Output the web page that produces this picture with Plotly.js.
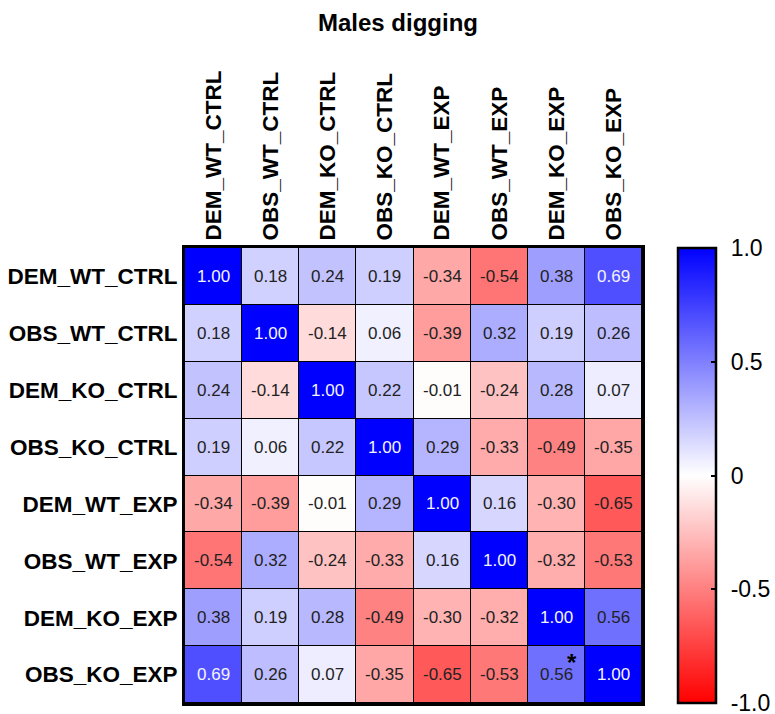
<!DOCTYPE html>
<html>
<head>
<meta charset="utf-8">
<script src="https://cdn.plot.ly/plotly-3.0.1.min.js"></script>
<style>html,body{margin:0;padding:0;background:#fff;}#chart{width:775px;height:714px;}</style>
</head>
<body>
<div id="chart"></div>
<script>
const labels = ["DEM_WT_CTRL","OBS_WT_CTRL","DEM_KO_CTRL","OBS_KO_CTRL","DEM_WT_EXP","OBS_WT_EXP","DEM_KO_EXP","OBS_KO_EXP"];
const row_DEM_WT_CTRL = [1.00, 0.18, 0.24, 0.19, -0.34, -0.54, 0.38, 0.69];
const row_OBS_WT_CTRL = [0.18, 1.00, -0.14, 0.06, -0.39, 0.32, 0.19, 0.26];
const row_DEM_KO_CTRL = [0.24, -0.14, 1.00, 0.22, -0.01, -0.24, 0.28, 0.07];
const row_OBS_KO_CTRL = [0.19, 0.06, 0.22, 1.00, 0.29, -0.33, -0.49, -0.35];
const row_DEM_WT_EXP  = [-0.34, -0.39, -0.01, 0.29, 1.00, 0.16, -0.30, -0.65];
const row_OBS_WT_EXP  = [-0.54, 0.32, -0.24, -0.33, 0.16, 1.00, -0.32, -0.53];
const row_DEM_KO_EXP  = [0.38, 0.19, 0.28, -0.49, -0.30, -0.32, 1.00, 0.56];
const row_OBS_KO_EXP  = [0.69, 0.26, 0.07, -0.35, -0.65, -0.53, 0.56, 1.00];
const z = [row_DEM_WT_CTRL,row_OBS_WT_CTRL,row_DEM_KO_CTRL,row_OBS_KO_CTRL,row_DEM_WT_EXP,row_OBS_WT_EXP,row_DEM_KO_EXP,row_OBS_KO_EXP];
const significant = [{row:"OBS_KO_EXP", col:"DEM_KO_EXP", mark:"*"}];
const cbTickVals = [1, 0.5, 0, -0.5, -1];
const cbTickText = ["1.0", "0.5", "0", "-0.5", "-1.0"];

const FONT = "Arial, 'Liberation Sans', sans-serif";
const PAD = "\u00a0\u200a";

const annotations = [];
z.forEach((row, i) => {
  row.forEach((v, j) => {
    annotations.push({
      x: labels[j], y: labels[i], xref: 'x', yref: 'y',
      text: v.toFixed(2), showarrow: false,
      font: {family: FONT, size: 17, color: v > 0.6 ? '#f4f4ff' : '#222'}
    });
  });
});
significant.forEach(s => {
  annotations.push({
    x: s.col, y: s.row, xref: 'x', yref: 'y', text: '<b>' + s.mark + '</b>', showarrow: false,
    xshift: 16, yshift: 12, font: {family: FONT, size: 24, color: '#000'}
  });
});

const trace = {
  type: 'heatmap',
  x: labels, y: labels, z: z,
  zmin: -1.0005, zmax: 1.0005,
  colorscale: [[0, 'rgb(255,0,0)'], [0.5, 'rgb(255,255,255)'], [1, 'rgb(0,0,255)']],
  xgap: 1, ygap: 1,
  hoverinfo: 'skip',
  colorbar: {
    x: (678 - 185) / 457, xanchor: 'left', xref: 'paper',
    y: 0.5, yanchor: 'middle', len: 1.0, lenmode: 'fraction',
    thickness: 38, thicknessmode: 'pixels',
    xpad: 0, ypad: 0,
    outlinewidth: 2.5, outlinecolor: '#000',
    tickmode: 'array', tickvals: cbTickVals, ticktext: cbTickText.map(t => PAD + t),
    ticks: 'inside', ticklen: 6, tickwidth: 2, tickcolor: '#000',
    ticklabeloverflow: 'allow',
    tickfont: {family: FONT, size: 23, color: '#000'}
  }
};

const layout = {
  width: 775, height: 714,
  margin: {l: 185, r: 133, t: 248, b: 11, autoexpand: false},
  paper_bgcolor: '#fff', plot_bgcolor: '#000',
  title: {text: '<b>Males digging</b>', x: 398/775, xanchor: 'center', xref: 'container',
          y: 1 - 23/714, yanchor: 'middle', yref: 'container',
          font: {family: FONT, size: 24, color: '#000'}},
  xaxis: {side: 'top', tickangle: -90, type: 'category',
          tickfont: {family: FONT, size: 22.5, color: '#000', weight: 'bold'},
          showline: true, mirror: true, linewidth: 3, linecolor: '#000',
          showgrid: false, zeroline: false, ticks: '', ticklabelstandoff: 0},
  yaxis: {autorange: 'reversed', type: 'category',
          tickfont: {family: FONT, size: 22.5, color: '#000', weight: 'bold'},
          showline: true, mirror: true, linewidth: 3, linecolor: '#000',
          showgrid: false, zeroline: false, ticks: '', ticklabelstandoff: 0},
  annotations: annotations,
  hovermode: false
};

Plotly.newPlot('chart', [trace], layout, {displayModeBar: false, staticPlot: true});
</script>
</body>
</html>
